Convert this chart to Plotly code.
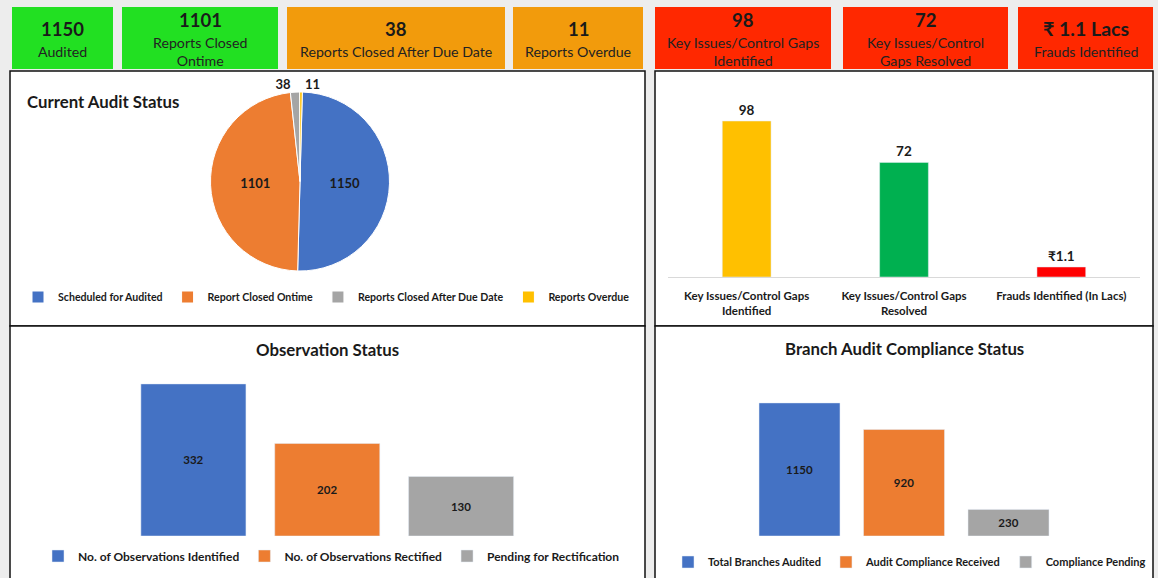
import plotly.graph_objects as go

W, H = 1158, 578
FONT = "Lato"
DARK = "#1a1a1a"

def px(x):
    return x / W

def py(y):
    return 1 - y / H

# ---------------- DATA ----------------
kpi_values = ["1150", "1101", "38", "11", "98", "72", "₹ 1.1 Lacs"]
kpi_labels = ["Audited", "Reports Closed<br>Ontime", "Reports Closed After Due Date",
              "Reports Overdue", "Key Issues/Control Gaps<br>Identified",
              "Key Issues/Control<br>Gaps Resolved", "Frauds Identified"]

pie_labels = ["Scheduled for Audited", "Report Closed Ontime",
              "Reports Closed After Due Date", "Reports Overdue"]
pie_values = [1150, 1101, 38, 11]

issue_categories = ["Key Issues/Control Gaps<br>Identified",
                    "Key Issues/Control Gaps<br>Resolved",
                    "Frauds Identified (In Lacs)"]
issue_values = [98, 72]
fraud_value = [1.1]

obs_labels = ["No. of Observations Identified", "No. of Observations Rectified",
              "Pending for Rectification"]
obs_values = [332, 202, 130]

branch_labels = ["Total Branches Audited", "Audit Compliance Received",
                 "Compliance Pending"]
branch_values = [1150, 920, 230]

# ---------------- STYLE ----------------
kpi_boxes = [(12, 113), (122, 278), (287, 505), (513, 643),
             (655, 831), (843, 1008), (1018, 1153)]
kpi_colors = ["#22e022", "#22e022", "#f29b0c", "#f29b0c",
              "#ff2800", "#ff2800", "#ff2800"]
office3 = ["#4472c4", "#ed7d31", "#a5a5a5"]
pie_colors = ["#4472c4", "#ed7d31", "#a5a5a5", "#ffc000"]
issue_colors = ["#ffc000", "#00b050"]

fig = go.Figure()

# Pie
fig.add_trace(go.Pie(
    labels=pie_labels, values=pie_values, sort=False, direction="clockwise",
    rotation=1.5, marker=dict(colors=pie_colors, line=dict(color="white", width=1)),
    textinfo="value", textposition=["inside", "inside", "outside", "outside"],
    insidetextorientation="horizontal",
    textfont=dict(family=FONT, size=13, color=DARK, weight="bold"),
    domain=dict(x=[px(210), px(390)], y=[py(271), py(92)]),
    legend="legend", showlegend=True, hoverinfo="label+value",
))

# Key issues bars
fig.add_trace(go.Bar(
    x=issue_categories[:2], y=issue_values, marker_color=issue_colors,
    width=0.31, text=issue_values, textposition="outside",
    textfont=dict(family=FONT, size=13.5, color=DARK, weight="bold"),
    cliponaxis=False, showlegend=False, xaxis="x", yaxis="y",
))
fig.add_trace(go.Bar(
    x=issue_categories[2:], y=fraud_value, marker_color="#ff0000",
    width=0.31, texttemplate="₹%{y}", textposition="outside",
    textfont=dict(family=FONT, size=13.5, color=DARK, weight="bold"),
    cliponaxis=False, showlegend=False, xaxis="x", yaxis="y4",
))

# Observation status
for lab, val, col in zip(obs_labels, obs_values, office3):
    fig.add_trace(go.Bar(
        x=[lab], y=[val], name=lab, marker_color=col, width=0.785,
        text=[val], textposition="inside", insidetextanchor="middle", textangle=0,
        textfont=dict(family=FONT, size=11.5, color=DARK, weight="bold"),
        xaxis="x2", yaxis="y2", legend="legend2",
    ))

# Branch compliance
for lab, val, col in zip(branch_labels, branch_values, office3):
    fig.add_trace(go.Bar(
        x=[lab], y=[val], name=lab, marker_color=col, width=0.775,
        text=[val], textposition="inside", insidetextanchor="middle", textangle=0,
        textfont=dict(family=FONT, size=11.5, color=DARK, weight="bold"),
        xaxis="x3", yaxis="y3", legend="legend3",
    ))

shapes = []
annotations = []

# Panels
for (x0, y0, x1, y1) in [(10, 71, 645, 326), (655, 71, 1153, 326),
                         (10, 326, 645, 582), (655, 326, 1153, 582)]:
    shapes.append(dict(type="rect", xref="paper", yref="paper",
                       x0=px(x0), x1=px(x1), y0=py(y1), y1=py(y0),
                       fillcolor="white", line=dict(color="#111111", width=1.5),
                       layer="below"))

# KPI boxes
for (x0, x1), col, val, lab in zip(kpi_boxes, kpi_colors, kpi_values, kpi_labels):
    shapes.append(dict(type="rect", xref="paper", yref="paper",
                       x0=px(x0), x1=px(x1), y0=py(69), y1=py(7),
                       fillcolor=col, line=dict(width=0), layer="below"))
    two = "<br>" in lab
    cx = (x0 + x1) / 2
    big = val.startswith("₹")
    annotations.append(dict(xref="paper", yref="paper", x=px(cx),
                            y=py(20 if two else 29), text=f"<b>{val}</b>",
                            showarrow=False, xanchor="center", yanchor="middle",
                            font=dict(family=FONT, size=19.5 if big else 18.5, color=DARK)))
    annotations.append(dict(xref="paper", yref="paper", x=px(cx),
                            y=py(51), yanchor="middle",
                            text=lab, showarrow=False, xanchor="center",
                            font=dict(family=FONT, size=14.2, color="#222222")))

# Titles
annotations += [
    dict(xref="paper", yref="paper", x=px(25), y=py(101), xanchor="left", yanchor="middle",
         text="<b>Current Audit Status</b>", showarrow=False,
         font=dict(family=FONT, size=16.8, color=DARK)),
    dict(xref="paper", yref="paper", x=px(327), y=py(349), xanchor="center", yanchor="middle",
         text="<b>Observation Status</b>", showarrow=False,
         font=dict(family=FONT, size=16.8, color=DARK)),
    dict(xref="paper", yref="paper", x=px(904), y=py(348), xanchor="center", yanchor="middle",
         text="<b>Branch Audit Compliance Status</b>", showarrow=False,
         font=dict(family=FONT, size=16.8, color=DARK)),
]

leg_common = dict(orientation="h", xanchor="left", yanchor="middle",
                  bgcolor="rgba(0,0,0,0)", itemwidth=30, itemclick=False)

fig.update_layout(
    width=W, height=H, margin=dict(l=0, r=0, t=0, b=0),
    paper_bgcolor="#ededed", plot_bgcolor="rgba(0,0,0,0)",
    barmode="overlay", shapes=shapes, annotations=annotations,
    font=dict(family=FONT, color=DARK),
    xaxis=dict(domain=[px(668), px(1140)], categoryorder="array",
               categoryarray=issue_categories, showgrid=False, zeroline=False,
               showline=True, linecolor="#d9d9d9", linewidth=1, ticks="",
               ticklabelstandoff=8,
               tickfont=dict(family=FONT, size=11.5, color=DARK, weight="bold"),
               fixedrange=True),
    yaxis=dict(domain=[py(277), py(90)], range=[0, 117.5], visible=False, fixedrange=True),
    yaxis4=dict(overlaying="y", range=[0, 20.5], visible=False, fixedrange=True),
    xaxis2=dict(domain=[px(126.5), px(528)], anchor="y2", visible=False,
                categoryorder="array", categoryarray=obs_labels, fixedrange=True),
    yaxis2=dict(domain=[py(536), py(370)], anchor="x2", range=[0, 362.4],
                visible=False, fixedrange=True),
    xaxis3=dict(domain=[px(747.25), px(1060.75)], anchor="y3", visible=False,
                categoryorder="array", categoryarray=branch_labels, fixedrange=True),
    yaxis3=dict(domain=[py(536), py(380)], anchor="x3", range=[0, 1348],
                visible=False, fixedrange=True),
    legend=dict(x=px(18), y=py(297), font=dict(family=FONT, size=10.6, color=DARK, weight="bold"),
                **leg_common),
    legend2=dict(x=px(38), y=py(556), font=dict(family=FONT, size=12, color=DARK, weight="bold"),
                 **leg_common),
    legend3=dict(x=px(668), y=py(562), font=dict(family=FONT, size=11, color=DARK, weight="bold"),
                 **leg_common),
)

fig.write_html("out.html")
